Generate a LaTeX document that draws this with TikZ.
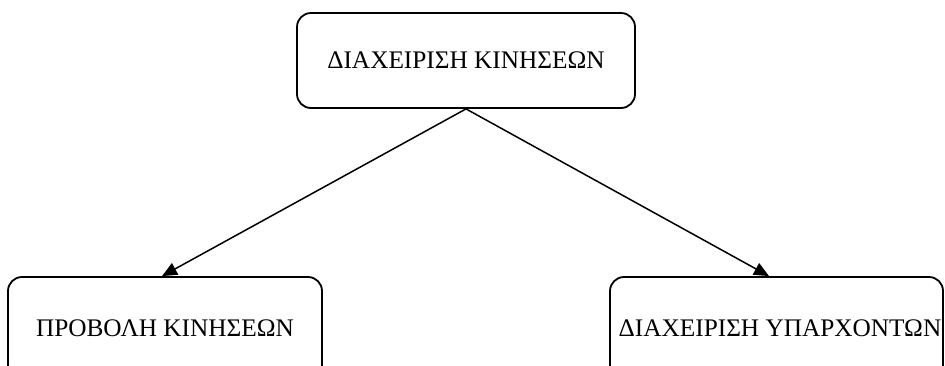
\documentclass[tikz,border=0pt]{standalone}
\usepackage{fontspec}
\setmainfont{Liberation Serif}
\usetikzlibrary{arrows.meta}

\begin{document}
\begin{tikzpicture}[x=1pt, y=-1pt,
    menubox/.style={draw=black, line width=1.8pt, rounded corners=14pt,
        inner sep=0pt, font=\fontsize{25.3}{30}\selectfont},
    link/.style={black, line width=1.5pt, -{Triangle[length=15pt,width=13pt]}}]
            \useasboundingbox (0,0) rectangle (945,365);
            \clip (0,0) rectangle (945,365);
            \node [menubox, minimum width=338pt, minimum height=95pt] (moves) at (466,60.5) {ΔΙΑΧΕΙΡΙΣΗ ΚΙΝΗΣΕΩΝ};
            \node [menubox, minimum width=314pt, minimum height=102pt] (view) at (165,328) {ΠΡΟΒΟΛΗ ΚΙΝΗΣΕΩΝ};
            \node [menubox, minimum width=333pt, minimum height=102pt] (edit) at (776.5,328) {\hspace*{7pt}ΔΙΑΧΕΙΡΙΣΗ ΥΠΑΡΧΟΝΤΩΝ};
            \draw [link] (moves.south) -- ([xshift=-3pt]view.north);
            \draw [link] (moves.south) -- ([xshift=-7.5pt]edit.north);
        \end{tikzpicture}
\end{document}
